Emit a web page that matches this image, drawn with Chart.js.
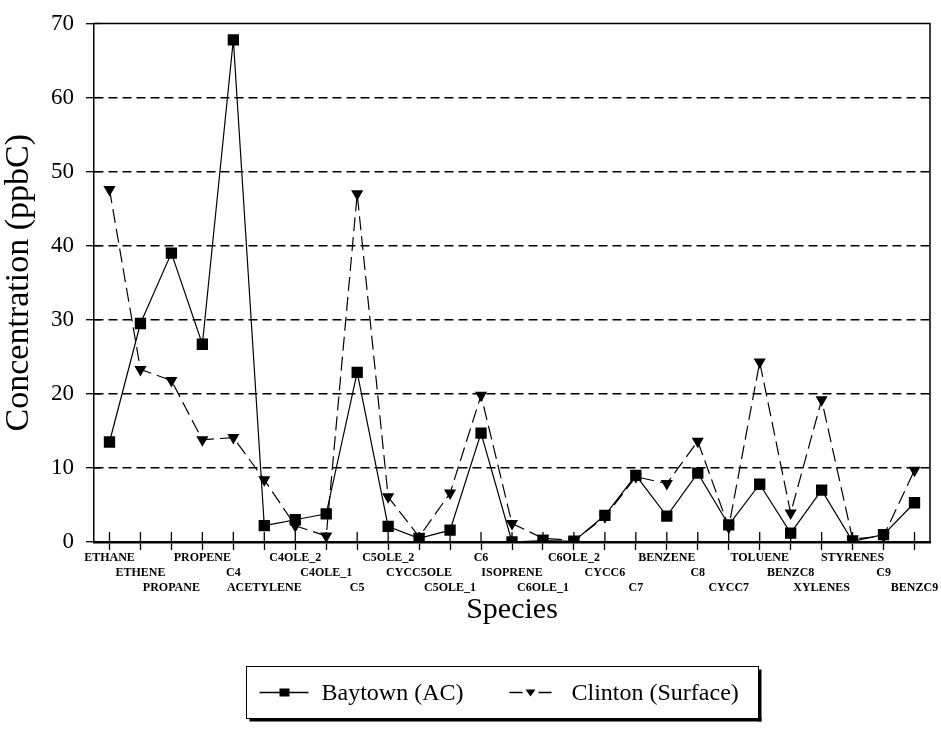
<!DOCTYPE html>
<html>
<head>
<meta charset="utf-8">
<script src="https://cdn.jsdelivr.net/npm/chart.js@4"></script>
<style>
  html, body { margin: 0; padding: 0; background: #fff; }
  #wrap { width: 941px; height: 749px; }
</style>
</head>
<body>
<div id="wrap"><canvas id="c" width="941" height="749"></canvas></div>
<script>
// Hydrocarbon species on the x axis
const species = ['ETHANE', 'ETHENE', 'PROPANE', 'PROPENE', 'C4', 'ACETYLENE', 'C4OLE_2', 'C4OLE_1',
  'C5', 'C5OLE_2', 'CYCC5OLE', 'C5OLE_1', 'C6', 'ISOPRENE', 'C6OLE_1', 'C6OLE_2', 'CYCC6', 'C7',
  'BENZENE', 'C8', 'CYCC7', 'TOLUENE', 'BENZC8', 'XYLENES', 'STYRENES', 'C9', 'BENZC9'];

// Concentrations in ppbC
const baytown = [13.5, 29.5, 39.0, 26.7, 67.8, 2.2, 3.0, 3.8, 22.9, 2.1, 0.5, 1.6, 14.7, 0.0,
  0.2, 0.1, 3.6, 9.0, 3.5, 9.3, 2.3, 7.8, 1.2, 7.0, 0.1, 1.0, 5.3];
const clinton = [47.6, 23.3, 21.8, 13.8, 14.1, 8.4, 2.2, 0.8, 47.0, 6.1, 0.7, 6.6, 19.8, 2.5,
  0.5, 0.2, 3.4, 8.8, 7.9, 13.6, 2.0, 24.3, 3.9, 19.2, 0.4, 0.8, 9.7];

// y axis range and step
const yTicks = [0, 10, 20, 30, 40, 50, 60, 70];

const seriesNames = ['Baytown (AC)', 'Clinton (Surface)'];
const SERIF = '"Liberation Serif", "Times New Roman", serif';

// Closed frame (top / right), and tick marks that cross the axes
const framePlugin = {
  id: 'frame',
  beforeDatasetsDraw(chart) {
    const { ctx, chartArea: ca, scales } = chart;
    ctx.save();
    ctx.strokeStyle = '#000';
    ctx.setLineDash([]);
    ctx.lineWidth = 1.5;
    ctx.beginPath();
    ctx.moveTo(ca.left, ca.top);
    ctx.lineTo(ca.right, ca.top);
    ctx.lineTo(ca.right, ca.bottom);
    ctx.stroke();
    ctx.lineWidth = 1.3;
    scales.x.ticks.forEach((t, i) => {
      const px = scales.x.getPixelForTick(i);
      ctx.beginPath();
      ctx.moveTo(px, ca.bottom - 10);
      ctx.lineTo(px, ca.bottom);
      ctx.stroke();
    });
    scales.y.ticks.forEach((t, i) => {
      const py = scales.y.getPixelForTick(i);
      ctx.beginPath();
      ctx.moveTo(ca.left, py);
      ctx.lineTo(ca.left + 7, py);
      ctx.stroke();
    });
    ctx.restore();
  }
};

// Boxed legend with a drop shadow, below the axis title
const legendPlugin = {
  id: 'boxLegend',
  afterDraw(chart) {
    const { ctx, chartArea: ca } = chart;
    const w = 512, h = 52;
    const x0 = Math.round((ca.left + ca.right) / 2 - w / 2) - 9.5;
    const y0 = chart.height - 82.5;
    ctx.save();
    ctx.strokeStyle = '#000';
    ctx.lineWidth = 1;
    ctx.strokeRect(x0, y0, w, h);
    ctx.fillStyle = '#000';
    ctx.fillRect(x0 + w, y0 + 3, 3, h);
    ctx.fillRect(x0 + 3, y0 + h, w, 3);

    const cy = y0 + h / 2;
    ctx.font = '24px ' + SERIF;
    ctx.textBaseline = 'middle';
    ctx.textAlign = 'left';

    // Baytown: solid line with square
    ctx.lineWidth = 1.5;
    ctx.beginPath();
    ctx.moveTo(x0 + 13, cy);
    ctx.lineTo(x0 + 62, cy);
    ctx.stroke();
    ctx.fillRect(x0 + 38 - 5, cy - 4, 10, 8);
    ctx.fillText(seriesNames[0], x0 + 75, cy + 1);

    // Clinton: dashed line with down-pointing triangle
    ctx.beginPath();
    ctx.moveTo(x0 + 263, cy);
    ctx.lineTo(x0 + 276, cy);
    ctx.moveTo(x0 + 292, cy);
    ctx.lineTo(x0 + 305, cy);
    ctx.stroke();
    ctx.beginPath();
    ctx.moveTo(x0 + 279, cy - 3);
    ctx.lineTo(x0 + 289, cy - 3);
    ctx.lineTo(x0 + 284, cy + 4);
    ctx.closePath();
    ctx.fill();
    ctx.fillText(seriesNames[1], x0 + 325, cy + 1);
    ctx.restore();
  }
};

new Chart(document.getElementById('c'), {
  type: 'line',
  data: {
    labels: species,
    datasets: [
      {
        label: seriesNames[0],
        data: baytown,
        borderColor: '#000',
        backgroundColor: '#000',
        borderWidth: 1.2,
        pointStyle: 'rect',
        pointRadius: 8,
        pointBackgroundColor: '#000',
        pointBorderColor: '#000',
        pointBorderWidth: 0,
        tension: 0,
        order: 1
      },
      {
        label: seriesNames[1],
        data: clinton,
        borderColor: '#000',
        backgroundColor: '#000',
        borderWidth: 1.2,
        borderDash: [14, 6],
        pointStyle: 'triangle',
        pointRotation: 180,
        pointRadius: 7,
        pointBackgroundColor: '#000',
        pointBorderColor: '#000',
        pointBorderWidth: 0,
        tension: 0,
        order: 2
      }
    ]
  },
  options: {
    responsive: false,
    animation: false,
    layout: { padding: { left: 2, right: 11, top: 8, bottom: 124 } },
    plugins: {
      legend: { display: false },
      tooltip: { enabled: false }
    },
    scales: {
      x: {
        type: 'category',
        offset: true,
        grid: {
          display: true,
          drawOnChartArea: false,
          drawTicks: true,
          offset: false,
          tickLength: 8,
          tickColor: '#000',
          tickWidth: 1.3
        },
        border: { display: true, color: '#000', width: 2.5 },
        ticks: {
          autoSkip: false,
          maxRotation: 0,
          minRotation: 0,
          padding: 0,
          color: '#000',
          font: { family: SERIF, size: 12, weight: 'bold', lineHeight: 1.25 },
          callback: function (value, index) {
            const rows = ['', '', ''];
            rows[index % 3] = species[index];
            return rows;
          }
        },
        title: {
          display: true,
          text: 'Species',
          color: '#000',
          font: { family: SERIF, size: 30, lineHeight: 1.0 },
          padding: { top: 0, bottom: 0 }
        }
      },
      y: {
        min: yTicks[0],
        max: yTicks[yTicks.length - 1],
        afterBuildTicks: (scale) => { scale.ticks = yTicks.map(v => ({ value: v })); },
        grid: {
          drawOnChartArea: true,
          drawTicks: true,
          tickLength: 8,
          tickColor: '#000',
          tickWidth: 1.3,
          lineWidth: 1.4,
          color: (c) => (c.tick && (c.tick.value === 0 || c.tick.value === 70)) ? 'rgba(0,0,0,0)' : '#000'
        },
        border: { display: true, color: '#000', width: 1.5, dash: [9, 5] },
        ticks: {
          color: '#000',
          padding: 12,
          font: { family: SERIF, size: 23, lineHeight: 1.0 }
        },
        title: {
          display: true,
          text: 'Concentration (ppbC)',
          color: '#000',
          font: { family: SERIF, size: 34, lineHeight: 1.0 },
          padding: { top: 0, bottom: 3 }
        }
      }
    }
  },
  plugins: [framePlugin, legendPlugin]
});
</script>
</body>
</html>
